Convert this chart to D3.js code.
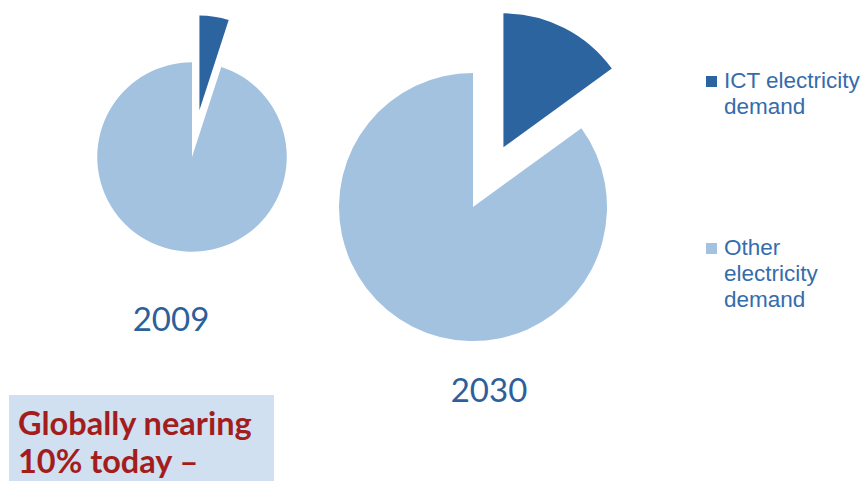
<!DOCTYPE html>
<html>
<head>
<meta charset="utf-8">
<script src="https://cdn.jsdelivr.net/npm/d3@7"></script>
<style>
  html, body { margin: 0; padding: 0; background: #fff; }
  svg { display: block; }
</style>
</head>
<body>
<div id="chart"></div>
<script>
// Share of global electricity demand, percent
const years = ["2009", "2030"];
const ictShare = [5, 15];
const otherShare = [95, 85];
// relative total demand (drives pie area)
const totalDemand = [1, 2];
const categories = ["ICT electricity demand", "Other electricity demand"];
const legendLines = [["ICT electricity", "demand"], ["Other", "electricity", "demand"]];
const calloutLines = ["Globally nearing", "10% today \u2013"];

const width = 867;
const height = 481;

const colour = d3.scaleOrdinal()
    .domain(categories)
    .range(["#2c64a0", "#a2c2e0"]);

const radius = d3.scaleSqrt()
    .domain([0, d3.max(totalDemand)])
    .range([0, 134]);

// where each pie sits, and where its year label goes
const pieCentres = [{x: 192, y: 157}, {x: 473, y: 207}];
const labelPos = [{x: 171, y: 331}, {x: 489, y: 402}];

const svg = d3.select("#chart")
    .append("svg")
    .attr("width", width)
    .attr("height", height);

const pie = d3.pie()
    .sort(null)
    .value(d => d.value);

years.forEach((year, i) => {
    const r = radius(totalDemand[i]);
    const slices = pie([
        {key: categories[0], value: ictShare[i]},
        {key: categories[1], value: otherShare[i]},
    ]);
    const arc = d3.arc().innerRadius(0).outerRadius(r);

    const g = svg.append("g")
        .attr("transform", `translate(${pieCentres[i].x}, ${pieCentres[i].y})`);

    g.selectAll("path")
        .data(slices)
        .enter()
        .append("path")
        .attr("d", arc)
        .attr("fill", d => colour(d.data.key))
        .attr("transform", d => {
            // pull the ICT slice out by half a radius
            if (d.index !== 0) return null;
            const mid = (d.startAngle + d.endAngle) / 2;
            const off = r * 0.5;
            return `translate(${Math.sin(mid) * off}, ${-Math.cos(mid) * off})`;
        });

    svg.append("text")
        .attr("x", labelPos[i].x)
        .attr("y", labelPos[i].y)
        .attr("text-anchor", "middle")
        .style("font-family", "Lato, 'Open Sans', sans-serif")
        .style("font-size", "33px")
        .style("fill", "#2d5f9a")
        .text(year);
});

// Legend
const legendTop = [88, 255];
const legend = svg.append("g").attr("class", "legend");

categories.forEach((cat, i) => {
    legend.append("rect")
        .attr("x", 706)
        .attr("y", legendTop[i] - 12)
        .attr("width", 11)
        .attr("height", 11)
        .attr("fill", colour(cat));

    legend.append("text")
        .attr("x", 724)
        .attr("y", legendTop[i])
        .style("font-family", "'Liberation Sans', Arial, sans-serif")
        .style("font-size", "22.5px")
        .style("fill", "#356cab")
        .selectAll("tspan")
        .data(legendLines[i])
        .enter()
        .append("tspan")
        .attr("x", 724)
        .attr("dy", (d, j) => j === 0 ? 0 : 26)
        .text(d => d);
});

// Callout box, bottom left
svg.append("rect")
    .attr("x", 9)
    .attr("y", 395)
    .attr("width", 265)
    .attr("height", 90)
    .attr("fill", "#d0e0f0");

svg.append("text")
    .attr("x", 18)
    .attr("y", 435)
    .style("font-family", "Lato, 'Open Sans', sans-serif")
    .style("font-weight", "bold")
    .style("font-size", "32.5px")
    .style("fill", "#a41d1d")
    .selectAll("tspan")
    .data(calloutLines)
    .enter()
    .append("tspan")
    .attr("x", 18)
    .attr("dy", (d, j) => j === 0 ? 0 : 38)
    .text(d => d);
</script>
</body>
</html>
